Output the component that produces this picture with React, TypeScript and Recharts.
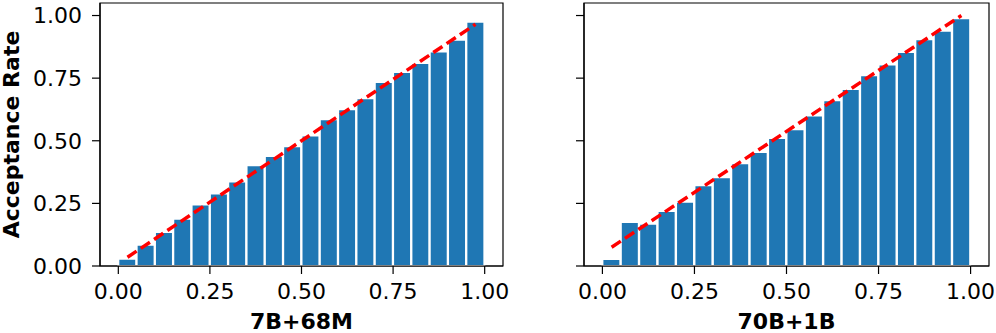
import React from 'react';
import { ComposedChart, Bar, XAxis, YAxis, ReferenceLine, ReferenceArea } from 'recharts';

const binCenters = [0.025, 0.075, 0.125, 0.175, 0.225, 0.275, 0.325, 0.375, 0.425, 0.475, 0.525, 0.575, 0.625, 0.675, 0.725, 0.775, 0.825, 0.875, 0.925, 0.975];
const rate7B68M = [0.029, 0.085, 0.136, 0.189, 0.246, 0.289, 0.337, 0.402, 0.439, 0.478, 0.521, 0.586, 0.626, 0.670, 0.735, 0.775, 0.810, 0.856, 0.903, 0.975];
const rate70B1B = [0.028, 0.176, 0.169, 0.220, 0.257, 0.322, 0.354, 0.410, 0.455, 0.511, 0.546, 0.601, 0.662, 0.707, 0.762, 0.804, 0.854, 0.905, 0.939, 0.989];
const refLine7B68M = [{ x: 0.025, y: 0.035 }, { x: 0.975, y: 0.965 }];
const refLine70B1B = [{ x: 0.025, y: 0.075 }, { x: 0.975, y: 1.0 }];
const xTicks = [0, 0.25, 0.5, 0.75, 1];
const yTicks = [0, 0.25, 0.5, 0.75, 1];
const panelTitles = ['7B+68M', '70B+1B'];
const yLabel = 'Acceptance Rate';

const FONT = 'DejaVu Sans';

type PanelProps = {
  values: number[];
  refLine: { x: number; y: number }[];
  title: string;
  width: number;
  yAxisWidth: number;
  showYLabels: boolean;
};

function Panel({ values, refLine, title, width, yAxisWidth, showYLabels }: PanelProps) {
  const data = binCenters.map((c, i) => ({ x: c, v: values[i] }));
  return (
    <ComposedChart
      width={width}
      height={333}
      data={data}
      margin={{ top: 3, right: 7, left: 0, bottom: 0 }}
    >
      <XAxis
        dataKey="x"
        type="number"
        domain={[-0.05, 1.05]}
        ticks={xTicks}
        allowDataOverflow
        tickFormatter={(v: number) => v.toFixed(2)}
        tick={{ fill: '#000', fontSize: 22, fontFamily: FONT }}
        tickSize={8}
        tickMargin={9}
        tickLine={{ stroke: '#000', strokeWidth: 1.2 }}
        axisLine={{ stroke: '#000', strokeWidth: 1.2 }}
        height={67}
        label={{
          value: title,
          position: 'insideBottom',
          offset: 4,
          style: { fill: '#000', fontSize: 22, fontWeight: 'bold', fontFamily: FONT },
        }}
      />
      <YAxis
        type="number"
        domain={[0, 1.05]}
        ticks={yTicks}
        allowDataOverflow
        width={yAxisWidth}
        tickFormatter={(v: number) => (showYLabels ? v.toFixed(2) : '')}
        tick={{ fill: '#000', fontSize: 22, fontFamily: FONT }}
        tickSize={8}
        tickMargin={10}
        tickLine={{ stroke: '#000', strokeWidth: 1.2 }}
        axisLine={{ stroke: '#000', strokeWidth: 1.2 }}
        label={
          showYLabels
            ? {
                value: yLabel,
                angle: -90,
                position: 'insideLeft',
                offset: 11,
                style: { textAnchor: 'middle', fill: '#000', fontSize: 22, fontWeight: 'bold', fontFamily: FONT },
              }
            : undefined
        }
      />
      <Bar dataKey="v" fill="#1f77b4" stroke="#ffffff" strokeWidth={2} barSize={18} isAnimationActive={false} />
      <ReferenceLine
        segment={refLine}
        stroke="#ff0000"
        strokeWidth={3.5}
        strokeDasharray="11 5"
      />
      <ReferenceArea x1={-0.05} x2={1.05} y1={0} y2={1.05} fill="none" fillOpacity={0} stroke="#000" strokeWidth={1.2} />
    </ComposedChart>
  );
}

export default function App() {
  return (
    <div style={{ position: 'absolute', left: 0, top: 0, width: 996, height: 333, background: '#fff', fontFamily: FONT }}>
      <div style={{ position: 'absolute', left: 0, top: 0 }}>
        <Panel values={rate7B68M} refLine={refLine7B68M} title={panelTitles[0]} width={510} yAxisWidth={100} showYLabels />
      </div>
      <div style={{ position: 'absolute', left: 510, top: 0 }}>
        <Panel values={rate70B1B} refLine={refLine70B1B} title={panelTitles[1]} width={486} yAxisWidth={74} showYLabels={false} />
      </div>
    </div>
  );
}
